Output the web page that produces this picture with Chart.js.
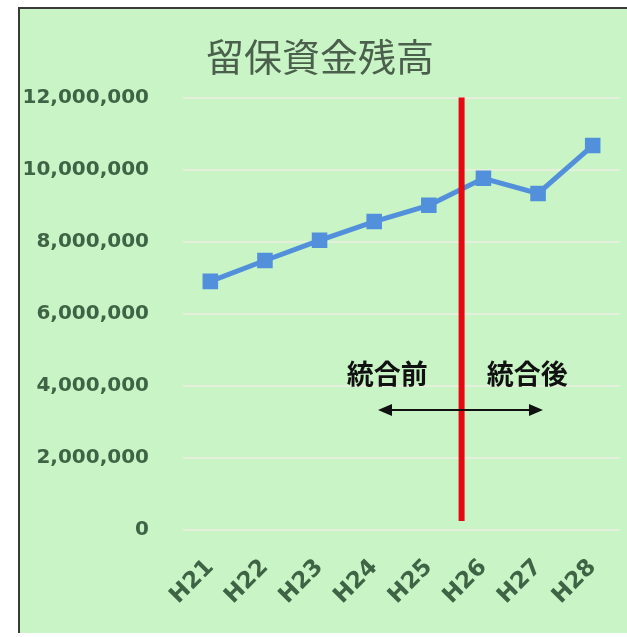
<!DOCTYPE html>
<html>
<head>
<meta charset="utf-8">
<script src="https://cdn.jsdelivr.net/npm/chart.js"></script>
<style>
  html, body { margin: 0; padding: 0; background: #fff; }
  #wrap { width: 627px; height: 637px; }
</style>
</head>
<body>
<div id="wrap"><canvas id="chart" width="627" height="637"></canvas></div>
<script>
// données
const years = ['H21', 'H22', 'H23', 'H24', 'H25', 'H26', 'H27', 'H28'];
const balances = [6900000, 7480000, 8040000, 8560000, 9010000, 9760000, 9340000, 10670000];
const yTicks = [0, 2000000, 4000000, 6000000, 8000000, 10000000, 12000000];
const mergeLabels = ['統合前', '統合後'];

// fond vert + bordure
const framePlugin = {
    id: 'frame',
    beforeDraw(chart) {
        const ctx = chart.ctx;
        ctx.save();
        ctx.fillStyle = '#ffffff';
        ctx.fillRect(0, 0, chart.width, chart.height);
        ctx.fillStyle = '#c9f5c6';
        ctx.fillRect(20, 9, chart.width - 20, 624);
        ctx.strokeStyle = '#3a3a3a';
        ctx.lineWidth = 2;
        ctx.beginPath();
        ctx.moveTo(19, 633);
        ctx.lineTo(19, 8);
        ctx.lineTo(chart.width, 8);
        ctx.stroke();
        ctx.restore();
    }
};

// ligne rouge + textes + flèche
const mergePlugin = {
    id: 'merge',
    afterDatasetsDraw(chart) {
        const ctx = chart.ctx;
        const x = chart.scales.x;
        const y = chart.scales.y;
        ctx.save();

        const rx = x.getPixelForValue(4.6);
        ctx.strokeStyle = '#e8080f';
        ctx.lineWidth = 6;
        ctx.beginPath();
        ctx.moveTo(rx, y.getPixelForValue(12000000));
        ctx.lineTo(rx, y.getPixelForValue(250000));
        ctx.stroke();

        ctx.fillStyle = '#111';
        ctx.font = 'bold 27px "Noto Sans CJK JP"';
        ctx.textAlign = 'center';
        ctx.textBaseline = 'middle';
        ctx.fillText(mergeLabels[0], x.getPixelForValue(3.24), y.getPixelForValue(4350000));
        ctx.fillText(mergeLabels[1], x.getPixelForValue(5.8), y.getPixelForValue(4350000));

        const ay = y.getPixelForValue(3330000);
        const ax1 = x.getPixelForValue(3.07);
        const ax2 = x.getPixelForValue(6.09);
        ctx.strokeStyle = '#111';
        ctx.lineWidth = 2;
        ctx.beginPath();
        ctx.moveTo(ax1 + 10, ay);
        ctx.lineTo(ax2 - 10, ay);
        ctx.stroke();
        ctx.beginPath();
        ctx.moveTo(ax1, ay);
        ctx.lineTo(ax1 + 14, ay - 6);
        ctx.lineTo(ax1 + 14, ay + 6);
        ctx.closePath();
        ctx.moveTo(ax2, ay);
        ctx.lineTo(ax2 - 14, ay - 6);
        ctx.lineTo(ax2 - 14, ay + 6);
        ctx.closePath();
        ctx.fill();
        ctx.restore();
    }
};

new Chart(document.getElementById('chart'), {
    type: 'line',
    data: {
        labels: years,
        datasets: [{
            data: balances,
            borderColor: '#5290db',
            backgroundColor: '#5290db',
            borderWidth: 5,
            pointStyle: 'rect',
            pointRadius: 11,
            pointBorderWidth: 0,
            tension: 0
        }]
    },
    options: {
        responsive: false,
        animation: false,
        layout: { autoPadding: false, padding: { left: 20, right: 7, top: 10, bottom: 0 } },
        plugins: {
            legend: { display: false },
            tooltip: { enabled: false },
            title: {
                display: true,
                text: '留保資金残高',
                color: '#4b5f4d',
                font: { family: '"Noto Sans CJK JP"', size: 38, weight: 'normal' },
                padding: { top: 24, bottom: 18 }
            }
        },
        scales: {
            x: {
                offset: true,
                grid: { display: false },
                border: { display: false },
                ticks: {
                    color: '#3e6445',
                    font: { family: '"DejaVu Sans"', size: 23, weight: 'bold' },
                    minRotation: 45,
                    maxRotation: 45,
                    padding: 16
                },
                afterFit(scale) {
                    scale.height = 107;
                    scale.paddingRight = 0;
                    scale.paddingLeft = 0;
                }
            },
            y: {
                min: 0,
                max: 12000000,
                afterBuildTicks(scale) { scale.ticks = yTicks.map(v => ({ value: v })); },
                grid: { color: '#e4efdc', lineWidth: 2, drawTicks: false },
                border: { display: false },
                ticks: {
                    color: '#3e6445',
                    font: { family: '"DejaVu Sans"', size: 20, weight: 'bold' },
                    padding: 34,
                    callback: v => v.toLocaleString('en-US')
                },
                afterFit(scale) { scale.width = 163; }
            }
        }
    },
    plugins: [framePlugin, mergePlugin]
});
</script>
</body>
</html>
